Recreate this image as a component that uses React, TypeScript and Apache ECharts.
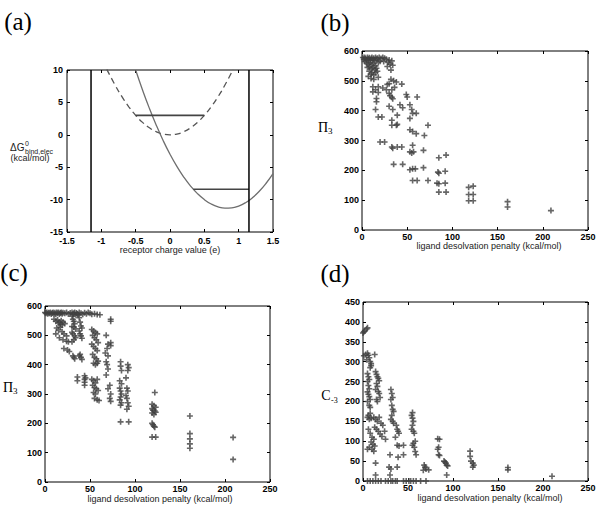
import React, { useEffect, useRef } from "react";
import * as echarts from "echarts";

// ---------- Panel (a) data ----------
const solidCurveX = [-0.5, -0.4, -0.3, -0.2, -0.1, 0, 0.1, 0.2, 0.3, 0.4, 0.5, 0.6, 0.7, 0.8, 0.9, 1.0, 1.1, 1.2, 1.3, 1.4, 1.5];
const solidCurveY = [10, 6.92, 4.08, 1.48, -0.88, -3, -4.88, -6.52, -7.92, -9.08, -10, -10.68, -11.12, -11.32, -11.28, -11, -10.48, -9.72, -8.72, -7.48, -6];
const dashedCurveX = [-0.92, -0.8, -0.7, -0.6, -0.5, -0.4, -0.3, -0.2, -0.1, 0, 0.1, 0.2, 0.3, 0.4, 0.5, 0.6, 0.7, 0.8, 0.92];
const dashedCurveY = [10.1, 7.68, 5.88, 4.32, 3, 1.92, 1.08, 0.48, 0.12, 0, 0.12, 0.48, 1.08, 1.92, 3, 4.32, 5.88, 7.68, 10.1];
const boundaryX = [-1.15, 1.15];
const upperLevelX = [-0.5, 0.5];
const upperLevelY = 3;
const lowerLevelX = [0.34, 1.15];
const lowerLevelY = -8.4;

// ---------- Panel (b) data: [ligand desolvation penalty, Pi_3] ----------
const panelB: number[][] = [
  [1, 578], [2, 572], [3, 578], [4, 575], [5, 570], [6, 578], [7, 573], [8, 577], [9, 569], [10, 575], [11, 578], [12, 571], [13, 576], [14, 568], [15, 578], [16, 572], [17, 576], [19, 578], [21, 575], [23, 578], [25, 576], [27, 572], [24, 565], [20, 566], [18, 562], [3, 565], [5, 560], [7, 556], [9, 562], [11, 553], [13, 558], [15, 550], [6, 545], [8, 548], [10, 540], [12, 544], [14, 537], [16, 542], [8, 532], [11, 527], [13, 520], [15, 528], [17, 532], [7, 515], [10, 522], [18, 512], [29, 562], [31, 556], [30, 570], [33, 567], [34, 552], [28, 548],
  [10, 508], [13, 505], [32, 536], [32, 505], [35, 500], [30, 490], [28, 488], [27, 470], [38, 496], [36, 478], [12, 480], [18, 480], [23, 476], [44, 489], [12, 463], [18, 461], [15, 470], [33, 470], [31, 450], [33, 445], [34, 440], [30, 458], [49, 454], [50, 446], [61, 446], [16, 441], [16, 430], [30, 415], [34, 404], [42, 420], [45, 410], [53, 420], [55, 404], [15, 404], [39, 385], [53, 374], [56, 391], [60, 391], [18, 379], [22, 379], [33, 351], [38, 351], [33, 368], [39, 354], [53, 336], [56, 330], [60, 323], [73, 351], [69, 317], [20, 295], [25, 295], [33, 278], [34, 274], [39, 278], [44, 278], [56, 284], [53, 262], [57, 262], [55, 258], [68, 267], [35, 220], [45, 220], [56, 205], [59, 205], [53, 202], [68, 209], [56, 166], [61, 166], [73, 166], [85, 242], [93, 251], [84, 194], [85, 190], [92, 197], [83, 157], [85, 155], [92, 157], [85, 127], [93, 127], [118, 143], [123, 147], [118, 119], [123, 119], [118, 98], [123, 98], [161, 95], [161, 77], [209, 65],
];

// ---------- Panel (c) data ----------
const panelC: number[][] = [
  [0, 578], [1, 575], [2, 578], [3, 574], [4, 577], [5, 575], [6, 578], [7, 573], [8, 576], [9, 578], [10, 574], [11, 577], [12, 572], [13, 578], [14, 575], [15, 578], [16, 573], [17, 576], [18, 578], [19, 574], [20, 577], [22, 575], [24, 578], [26, 573], [28, 576], [30, 578], [31, 572], [32, 575], [33, 578], [34, 570], [35, 576], [36, 573], [38, 578], [40, 575], [42, 572], [44, 577], [46, 574], [48, 578], [50, 575], [52, 572], [55, 574], [58, 571], [61, 570], [73, 555], [73, 548],
  [10, 555], [12, 548], [14, 552], [15, 542], [16, 545], [17, 538], [18, 550], [19, 535], [20, 545], [22, 540], [13, 525], [15, 518], [17, 528], [19, 512], [21, 505], [24, 498], [12, 505], [16, 492], [20, 485], [24, 480], [26, 478], [21, 455], [25, 450], [27, 445],
  [30, 565], [31, 555], [32, 548], [33, 540], [30, 530], [32, 528], [34, 522], [30, 510], [31, 505], [33, 498], [34, 492], [32, 485], [30, 478], [31, 430], [32, 425], [33, 420],
  [37, 570], [38, 560], [39, 545], [40, 532], [41, 525], [38, 515], [39, 505], [40, 498], [41, 490], [38, 430], [40, 425], [41, 418], [39, 435], [36, 358], [36, 345], [44, 362], [44, 350], [44, 340], [44, 330], [45, 355],
  [52, 520], [54, 515], [56, 510], [58, 505], [53, 500], [55, 492], [57, 485], [59, 475], [52, 470], [54, 462], [56, 455], [58, 448], [53, 435], [55, 425], [57, 420], [59, 412], [54, 405], [56, 400], [58, 405], [52, 350], [54, 345], [56, 338], [58, 350], [53, 330], [55, 322], [57, 318], [59, 312], [54, 305], [56, 300], [55, 285], [58, 280], [60, 278],
  [68, 500], [70, 470], [69, 455], [67, 440], [70, 430], [68, 410], [69, 400], [70, 385], [68, 365], [73, 475], [73, 465], [72, 330], [70, 318], [73, 300], [72, 285], [73, 275],
  [84, 410], [84, 395], [85, 380], [83, 345], [85, 335], [83, 320], [84, 310], [85, 300], [84, 290], [83, 280], [85, 270], [84, 262], [84, 205],
  [92, 400], [93, 390], [92, 380], [90, 355], [91, 320], [92, 310], [90, 295], [91, 285], [92, 270], [93, 258], [91, 248], [93, 205],
  [122, 305], [119, 265], [121, 260], [123, 255], [119, 250], [120, 245], [122, 242], [123, 238], [119, 235], [121, 230], [119, 200], [120, 195], [121, 190], [122, 187], [119, 153], [123, 153],
  [161, 225], [161, 165], [161, 147], [161, 130], [161, 115], [209, 152], [209, 77],
];

// ---------- Panel (d) data: [ligand desolvation penalty, C_-3] ----------
const panelD: number[][] = [
  [0, 372], [2, 378], [4, 382], [5, 385], [1, 375], [1, 315], [3, 318], [5, 321], [6, 316], [4, 305], [7, 310], [13, 318], [8, 300], [9, 295], [8, 285], [9, 290],
  [5, 270], [6, 262], [7, 255], [5, 250], [6, 240], [7, 232], [5, 224], [6, 218], [7, 212], [8, 205], [5, 200], [7, 190], [8, 185],
  [14, 275], [15, 268], [16, 262], [17, 258], [18, 252], [15, 245], [16, 238], [14, 230], [17, 225], [18, 220], [19, 210], [15, 205], [16, 200],
  [5, 160], [7, 155], [9, 158], [6, 165], [8, 170], [12, 160], [14, 155], [16, 150], [18, 160], [20, 145], [22, 140], [24, 125], [13, 135], [15, 130], [17, 125], [19, 118], [21, 112], [25, 105],
  [6, 130], [8, 120], [10, 110], [12, 105], [9, 98], [11, 92], [13, 88], [7, 85], [10, 80], [12, 75], [5, 80], [14, 45], [14, 15],
  [31, 230], [32, 220], [33, 210], [31, 205], [32, 190], [33, 180], [34, 175], [32, 165], [31, 155], [33, 150], [34, 145], [37, 140], [38, 130], [39, 125], [40, 120], [36, 110], [38, 90], [40, 88], [45, 90],
  [30, 66], [29, 35], [31, 30], [30, 15], [39, 60], [38, 35], [45, 66],
  [55, 172], [54, 165], [55, 158], [56, 150], [55, 140], [54, 130], [56, 125], [57, 120], [58, 100], [56, 95], [55, 90], [57, 85], [58, 74], [59, 66],
  [68, 40], [69, 35], [70, 30], [67, 27], [73, 28], [83, 106], [85, 105], [84, 85], [83, 80], [84, 66], [85, 64], [90, 50], [92, 45], [93, 40], [91, 48], [94, 38], [93, 15],
  [119, 75], [119, 62], [120, 50], [122, 45], [123, 40], [122, 35], [161, 34], [161, 28], [210, 12],
  [5, 0], [8, 0], [11, 0], [14, 0], [17, 0], [20, 0], [25, 0], [28, 0], [31, 0], [33, 0], [36, 0], [38, 0], [45, 0], [48, 0], [51, 0], [53, 0], [56, 0], [59, 0], [64, 0], [70, 0],
];

const PLUS = "path://M2.2,0 L3.8,0 L3.8,2.2 L6,2.2 L6,3.8 L3.8,3.8 L3.8,6 L2.2,6 L2.2,3.8 L0,3.8 L0,2.2 L2.2,2.2 Z";
const SANS = "Liberation Sans, Arial, sans-serif";
const SERIF = "Liberation Serif, DejaVu Serif, serif";
const TICK_FONT = { fontSize: 9, fontWeight: "bold" as const, color: "#000", fontFamily: SANS };

function axisBase(grid: number, min: number, max: number, interval: number) {
  return {
    type: "value" as const, gridIndex: grid, min, max, interval,
    axisLine: { show: false, onZero: false }, splitLine: { show: false },
    axisTick: { show: true, inside: true, length: 3, lineStyle: { color: "#000", width: 1 } },
  };
}
function xAxesFor(grid: number, min: number, max: number, interval: number, margin = 2) {
  const base = axisBase(grid, min, max, interval);
  return [
    { ...base, position: "bottom" as const, axisLabel: { ...TICK_FONT, margin } },
    { ...base, position: "top" as const, axisLabel: { show: false } },
  ];
}
function yAxesFor(grid: number, min: number, max: number, interval: number, margin = 3) {
  const base = axisBase(grid, min, max, interval);
  return [
    { ...base, position: "left" as const, axisLabel: { ...TICK_FONT, margin } },
    { ...base, position: "right" as const, axisLabel: { show: false } },
  ];
}

function txt(text: string, x: number, y: number, fontSize: number, fontFamily: string, align = "center", fill = "#000") {
  return { type: "text", x, y, silent: true, style: { text, fontSize, fontFamily, fill, align, verticalAlign: "middle" } };
}

export default function App() {
  const ref = useRef<HTMLDivElement>(null);
  useEffect(() => {
    if (!ref.current) return;
    const chart = echarts.init(ref.current, undefined, { renderer: "svg" });
    const gridStyle = { show: true, borderColor: "#000", borderWidth: 1, backgroundColor: "#fff" };
    const scatter = (data: number[][], idx: number) => ({
      type: "scatter", xAxisIndex: idx * 2, yAxisIndex: idx * 2, data,
      symbol: PLUS, symbolSize: 6, itemStyle: { color: "#404040" }, silent: true,
    });
    const line = (xs: number[], ys: number[], color: string, type: any = "solid", width = 1.3) => ({
      type: "line", xAxisIndex: 0, yAxisIndex: 0, data: xs.map((x, i) => [x, ys[i]]),
      showSymbol: false, symbol: "none", smooth: true, silent: true,
      lineStyle: { color, width, type }, clip: true,
    });
    chart.setOption({
      animation: false,
      backgroundColor: "#fff",
      grid: [
        { left: 67, top: 70, width: 206, height: 162, ...gridStyle },
        { left: 362, top: 51, width: 226, height: 179, ...gridStyle },
        { left: 45, top: 306, width: 225, height: 176, ...gridStyle },
        { left: 363, top: 302, width: 225, height: 179, ...gridStyle },
      ],
      xAxis: [
        ...xAxesFor(0, -1.5, 1.5, 0.5, 4),
        ...xAxesFor(1, 0, 250, 50),
        ...xAxesFor(2, 0, 250, 50),
        ...xAxesFor(3, 0, 250, 50),
      ],
      yAxis: [
        ...yAxesFor(0, -15, 10, 5, 4),
        ...yAxesFor(1, 0, 600, 100),
        ...yAxesFor(2, 0, 600, 100),
        ...yAxesFor(3, 0, 450, 50),
      ],
      series: [
        line(dashedCurveX, dashedCurveY, "#555", [6, 4], 1.3),
        line(solidCurveX, solidCurveY, "#6e6e6e", "solid", 1.3),
        line(upperLevelX, [upperLevelY, upperLevelY], "#444", "solid", 1.6),
        line(lowerLevelX, [lowerLevelY, lowerLevelY], "#444", "solid", 1.6),
        line([boundaryX[0], boundaryX[0]], [-15, 10], "#000", "solid", 1.5),
        line([boundaryX[1], boundaryX[1]], [-15, 10], "#000", "solid", 1.5),
        scatter(panelB, 1),
        scatter(panelC, 2),
        scatter(panelD, 3),
      ],
      graphic: [
        txt("(a)", 18, 21, 25, SERIF),
        txt("(b)", 335, 22, 25, SERIF),
        txt("(c)", 14, 272, 25, SERIF),
        txt("(d)", 335, 273, 25, SERIF),
        // panel a labels
        txt("receptor charge value (e)", 170, 250, 9, SANS, "center", "#222"),
        txt("ΔG", 10, 147, 10, SANS, "left", "#222"),
        txt("0", 25, 143, 7, SANS, "left", "#222"),
        txt("bind,elec", 25, 151, 7, SANS, "left", "#222"),
        txt("(kcal/mol)", 30, 158, 9, SANS, "center", "#222"),
        // panel b
        txt("Π", 323, 127, 14, SERIF),
        txt("3", 328, 131, 9, SERIF, "left"),
        txt("ligand desolvation penalty (kcal/mol)", 489, 246, 9, SANS, "center", "#222"),
        // panel c
        txt("Π", 8, 387, 14, SERIF),
        txt("3", 13, 391, 9, SERIF, "left"),
        txt("ligand desolvation penalty (kcal/mol)", 160, 499, 9, SANS, "center", "#222"),
        // panel d
        txt("C", 326, 395, 14, SERIF),
        txt("-3", 331, 400, 8, SERIF, "left"),
        txt("ligand desolvation penalty (kcal/mol)", 490, 498, 9, SANS, "center", "#222"),
      ],
    });
    return () => chart.dispose();
  }, []);
  return <div ref={ref} style={{ position: "absolute", left: 0, top: 0, width: 600, height: 511 }} />;
}
